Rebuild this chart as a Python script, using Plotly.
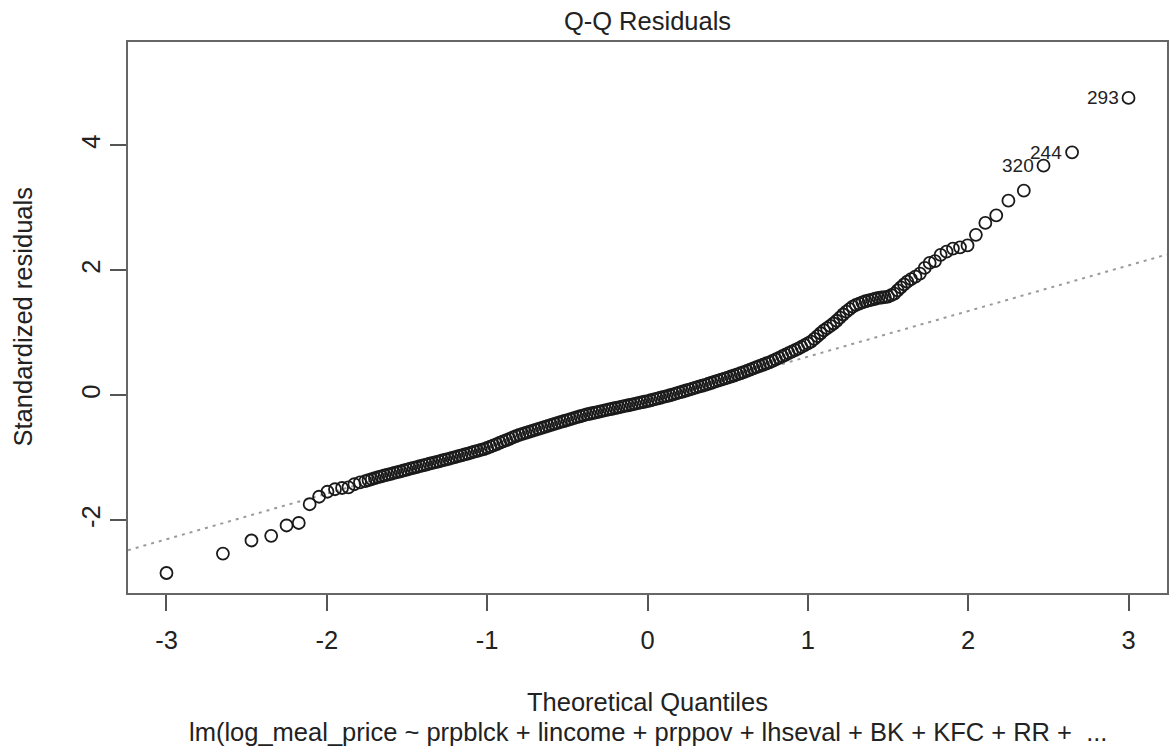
import plotly.graph_objects as go

# ---------------- data ----------------
theo_q = [
    -3.000, -2.648, -2.470, -2.347, -2.251, -2.175, -2.107, -2.048, -1.996, -1.949,
    -1.905, -1.865, -1.828, -1.793, -1.760,
    -1.74, -1.72, -1.70, -1.68, -1.66, -1.64, -1.62, -1.60, -1.58, -1.56,
    -1.54, -1.52, -1.50, -1.48, -1.46, -1.44, -1.42, -1.40, -1.38, -1.36,
    -1.34, -1.32, -1.30, -1.28, -1.26, -1.24, -1.22, -1.20, -1.18, -1.16,
    -1.14, -1.12, -1.10, -1.08, -1.06, -1.04, -1.02, -1.00, -0.98, -0.96,
    -0.94, -0.92, -0.90, -0.88, -0.86, -0.84, -0.82, -0.80, -0.78, -0.76,
    -0.74, -0.72, -0.70, -0.68, -0.66, -0.64, -0.62, -0.60, -0.58, -0.56,
    -0.54, -0.52, -0.50, -0.48, -0.46, -0.44, -0.42, -0.40, -0.38, -0.36,
    -0.34, -0.32, -0.30, -0.28, -0.26, -0.24, -0.22, -0.20, -0.18, -0.16,
    -0.14, -0.12, -0.10, -0.08, -0.06, -0.04, -0.02, 0.00, 0.02, 0.04,
    0.06, 0.08, 0.10, 0.12, 0.14, 0.16, 0.18, 0.20, 0.22, 0.24,
    0.26, 0.28, 0.30, 0.32, 0.34, 0.36, 0.38, 0.40, 0.42, 0.44,
    0.46, 0.48, 0.50, 0.52, 0.54, 0.56, 0.58, 0.60, 0.62, 0.64,
    0.66, 0.68, 0.70, 0.72, 0.74, 0.76, 0.78, 0.80, 0.82, 0.84,
    0.86, 0.88, 0.90, 0.92, 0.94, 0.96, 0.98, 1.00, 1.02, 1.04,
    1.06, 1.08, 1.10, 1.12, 1.14, 1.16, 1.18, 1.20, 1.22, 1.24,
    1.26, 1.28, 1.30, 1.32, 1.34, 1.36, 1.38, 1.40, 1.42, 1.44,
    1.46, 1.48, 1.50, 1.52, 1.54, 1.56, 1.58, 1.60, 1.62,
    1.644, 1.671, 1.699, 1.729, 1.760, 1.793, 1.828, 1.865, 1.905, 1.949,
    1.996, 2.048, 2.107, 2.175, 2.251, 2.347, 2.470, 2.648, 3.000,
]

std_resid = [
    -2.84, -2.53, -2.32, -2.245, -2.08, -2.04, -1.74, -1.62, -1.54, -1.50,
    -1.48, -1.47, -1.42, -1.39, -1.37,
    -1.354, -1.339, -1.323, -1.308, -1.293, -1.280, -1.267, -1.253, -1.240, -1.227,
    -1.213, -1.200, -1.186, -1.172, -1.159, -1.145, -1.132, -1.118, -1.105, -1.092,
    -1.079, -1.066, -1.053, -1.040, -1.026, -1.013, -1.000, -0.986, -0.971, -0.957,
    -0.943, -0.929, -0.914, -0.900, -0.886, -0.871, -0.857, -0.840, -0.819, -0.798,
    -0.777, -0.756, -0.735, -0.714, -0.693, -0.672, -0.651, -0.630, -0.614, -0.598,
    -0.582, -0.566, -0.550, -0.534, -0.518, -0.502, -0.486, -0.470, -0.455, -0.440,
    -0.424, -0.409, -0.394, -0.379, -0.363, -0.348, -0.333, -0.318, -0.304, -0.293,
    -0.281, -0.270, -0.259, -0.247, -0.236, -0.224, -0.213, -0.201, -0.190, -0.179,
    -0.168, -0.157, -0.146, -0.134, -0.123, -0.112, -0.101, -0.090, -0.077, -0.063,
    -0.050, -0.037, -0.023, -0.010, 0.003, 0.018, 0.033, 0.048, 0.063, 0.079,
    0.094, 0.109, 0.124, 0.140, 0.155, 0.170, 0.187, 0.203, 0.220, 0.236,
    0.253, 0.270, 0.286, 0.303, 0.319, 0.336, 0.355, 0.374, 0.394, 0.413,
    0.433, 0.452, 0.472, 0.491, 0.511, 0.530, 0.552, 0.577, 0.602, 0.627,
    0.651, 0.676, 0.701, 0.725, 0.750, 0.778, 0.805, 0.833, 0.860, 0.905,
    0.950, 0.995, 1.040, 1.077, 1.114, 1.151, 1.195, 1.245, 1.295, 1.340,
    1.380, 1.420, 1.450, 1.470, 1.490, 1.507, 1.520, 1.533, 1.547, 1.560,
    1.567, 1.573, 1.580, 1.605, 1.630, 1.680, 1.730, 1.775, 1.820,
    1.86, 1.90, 1.95, 2.04, 2.12, 2.15, 2.25, 2.30, 2.35, 2.37,
    2.40, 2.57, 2.76, 2.88, 3.115, 3.275, 3.675, 3.89, 4.76,
]
assert len(theo_q) == len(std_resid)

outlier_labels = ["293", "244", "320"]
outlier_index = [len(theo_q) - 1, len(theo_q) - 2, len(theo_q) - 3]

qq_intercept = -0.11
qq_slope = 0.73

x_range = [-3.24, 3.24]
y_range = [-3.16, 5.654]
x_ticks = [-3, -2, -1, 0, 1, 2, 3]
y_ticks = [-2, 0, 2, 4]

title_text = "Q-Q Residuals"
x_title = "Theoretical Quantiles"
sub_caption = "lm(log_meal_price ~ prpblck + lincome + prppov + lhseval + BK + KFC + RR +  ..."
y_title = "Standardized residuals"

# ---------------- figure ----------------
FONT = "Liberation Sans, Arial, Helvetica, sans-serif"
TXT = "#222222"
FS = 25.5

fig = go.Figure()

fig.add_trace(go.Scatter(
    x=x_range,
    y=[qq_intercept + qq_slope * v for v in x_range],
    mode="lines",
    line=dict(color="#9a9a9a", width=2, dash="3px,5px"),
    hoverinfo="skip",
    showlegend=False,
))

fig.add_trace(go.Scatter(
    x=theo_q, y=std_resid,
    mode="markers",
    marker=dict(symbol="circle-open", size=12, color="#1a1a1a", line=dict(width=1.8)),
    showlegend=False,
))

annotations = []
for lab, idx in zip(outlier_labels, outlier_index):
    annotations.append(dict(
        x=theo_q[idx], y=std_resid[idx], xref="x", yref="y",
        text=lab, showarrow=False, xanchor="right", yanchor="middle",
        xshift=-8, font=dict(family=FONT, size=19, color=TXT),
    ))

annotations.append(dict(
    x=0.5, y=0, xref="paper", yref="paper", text=x_title, showarrow=False,
    xanchor="center", yanchor="middle", yshift=-109,
    font=dict(family=FONT, size=FS, color=TXT),
))
annotations.append(dict(
    x=0.5, y=0, xref="paper", yref="paper", text=sub_caption, showarrow=False,
    xanchor="center", yanchor="middle", yshift=-139,
    font=dict(family=FONT, size=FS, color=TXT),
))
annotations.append(dict(
    x=0, y=0.5, xref="paper", yref="paper", text=y_title, showarrow=False,
    xanchor="center", yanchor="middle", xshift=-106, textangle=-90,
    font=dict(family=FONT, size=FS, color=TXT),
))

fig.update_layout(
    width=1171, height=749,
    margin=dict(l=128, r=2, t=42, b=156, pad=0),
    paper_bgcolor="white", plot_bgcolor="white",
    font=dict(family=FONT, size=FS, color=TXT),
    title=dict(text=title_text, x=0.5, xref="paper", xanchor="center",
               y=1 - 21 / 749, yref="container", yanchor="middle",
               font=dict(family=FONT, size=FS, color=TXT)),
    annotations=annotations,
    showlegend=False,
)

fig.update_xaxes(
    range=x_range, tickmode="array", tickvals=x_ticks,
    ticktext=[str(v) for v in x_ticks],
    ticks="outside", ticklen=16, tickwidth=1.5, tickcolor="#555555",
    showline=True, linecolor="#666666", linewidth=2, mirror=True,
    showgrid=False, zeroline=False, ticklabelstandoff=7,
    tickfont=dict(family=FONT, size=FS, color=TXT),
)
fig.update_yaxes(
    range=y_range, tickmode="array", tickvals=y_ticks,
    ticktext=[str(v) for v in y_ticks],
    ticks="outside", ticklen=16, tickwidth=1.5, tickcolor="#555555",
    showline=True, linecolor="#666666", linewidth=2, mirror=True,
    showgrid=False, zeroline=False, tickangle=-90,
    tickfont=dict(family=FONT, size=FS, color=TXT),
)

fig.write_html("out.html")
